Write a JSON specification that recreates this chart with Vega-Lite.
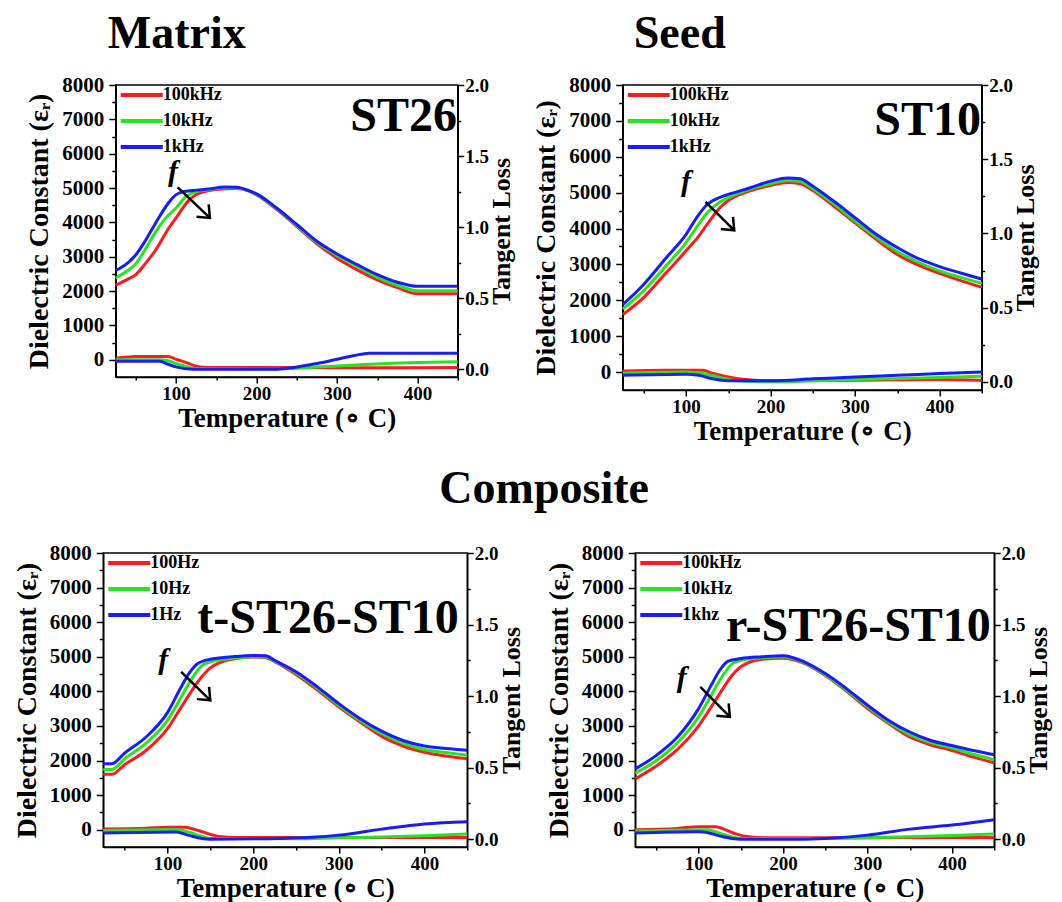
{
  "$schema": "https://vega.github.io/schema/vega-lite/v6.json",
  "padding": {"left": 12, "top": 10, "right": 3, "bottom": 0},
  "background": "white",
  "datasets": {
    "eps": [
      {"p":"A","f":"100kHz","T":25,"eps":2170},{"p":"A","f":"100kHz","T":40,"eps":2350},{"p":"A","f":"100kHz","T":50,"eps":2480},{"p":"A","f":"100kHz","T":60,"eps":2750},{"p":"A","f":"100kHz","T":75,"eps":3210},{"p":"A","f":"100kHz","T":90,"eps":3800},{"p":"A","f":"100kHz","T":100,"eps":4130},{"p":"A","f":"100kHz","T":115,"eps":4620},{"p":"A","f":"100kHz","T":125,"eps":4810},{"p":"A","f":"100kHz","T":140,"eps":4920},{"p":"A","f":"100kHz","T":150,"eps":4960},{"p":"A","f":"100kHz","T":175,"eps":4990},{"p":"A","f":"100kHz","T":190,"eps":4920},{"p":"A","f":"100kHz","T":200,"eps":4800},{"p":"A","f":"100kHz","T":225,"eps":4380},{"p":"A","f":"100kHz","T":250,"eps":3880},{"p":"A","f":"100kHz","T":275,"eps":3380},{"p":"A","f":"100kHz","T":300,"eps":2960},{"p":"A","f":"100kHz","T":325,"eps":2620},{"p":"A","f":"100kHz","T":350,"eps":2330},{"p":"A","f":"100kHz","T":375,"eps":2100},{"p":"A","f":"100kHz","T":400,"eps":1920},{"p":"A","f":"100kHz","T":425,"eps":1920},{"p":"A","f":"100kHz","T":450,"eps":1920},
      {"p":"A","f":"10kHz","T":25,"eps":2380},{"p":"A","f":"10kHz","T":40,"eps":2600},{"p":"A","f":"10kHz","T":50,"eps":2800},{"p":"A","f":"10kHz","T":60,"eps":3150},{"p":"A","f":"10kHz","T":75,"eps":3740},{"p":"A","f":"10kHz","T":90,"eps":4200},{"p":"A","f":"10kHz","T":100,"eps":4420},{"p":"A","f":"10kHz","T":112,"eps":4750},{"p":"A","f":"10kHz","T":125,"eps":4900},{"p":"A","f":"10kHz","T":140,"eps":4950},{"p":"A","f":"10kHz","T":160,"eps":5010},{"p":"A","f":"10kHz","T":175,"eps":5000},{"p":"A","f":"10kHz","T":190,"eps":4920},{"p":"A","f":"10kHz","T":200,"eps":4810},{"p":"A","f":"10kHz","T":225,"eps":4400},{"p":"A","f":"10kHz","T":250,"eps":3910},{"p":"A","f":"10kHz","T":275,"eps":3420},{"p":"A","f":"10kHz","T":300,"eps":3040},{"p":"A","f":"10kHz","T":325,"eps":2720},{"p":"A","f":"10kHz","T":350,"eps":2400},{"p":"A","f":"10kHz","T":375,"eps":2170},{"p":"A","f":"10kHz","T":400,"eps":2010},{"p":"A","f":"10kHz","T":425,"eps":2010},{"p":"A","f":"10kHz","T":450,"eps":2010},
      {"p":"A","f":"1kHz","T":25,"eps":2600},{"p":"A","f":"1kHz","T":40,"eps":2820},{"p":"A","f":"1kHz","T":50,"eps":3060},{"p":"A","f":"1kHz","T":60,"eps":3400},{"p":"A","f":"1kHz","T":75,"eps":4000},{"p":"A","f":"1kHz","T":90,"eps":4550},{"p":"A","f":"1kHz","T":100,"eps":4810},{"p":"A","f":"1kHz","T":110,"eps":4900},{"p":"A","f":"1kHz","T":125,"eps":4940},{"p":"A","f":"1kHz","T":140,"eps":4970},{"p":"A","f":"1kHz","T":160,"eps":5030},{"p":"A","f":"1kHz","T":175,"eps":5020},{"p":"A","f":"1kHz","T":190,"eps":4930},{"p":"A","f":"1kHz","T":200,"eps":4830},{"p":"A","f":"1kHz","T":225,"eps":4420},{"p":"A","f":"1kHz","T":250,"eps":3940},{"p":"A","f":"1kHz","T":275,"eps":3450},{"p":"A","f":"1kHz","T":300,"eps":3080},{"p":"A","f":"1kHz","T":325,"eps":2770},{"p":"A","f":"1kHz","T":350,"eps":2480},{"p":"A","f":"1kHz","T":375,"eps":2260},{"p":"A","f":"1kHz","T":400,"eps":2140},{"p":"A","f":"1kHz","T":425,"eps":2140},{"p":"A","f":"1kHz","T":450,"eps":2140},

      {"p":"B","f":"100kHz","T":25,"eps":1600},{"p":"B","f":"100kHz","T":50,"eps":2080},{"p":"B","f":"100kHz","T":75,"eps":2730},{"p":"B","f":"100kHz","T":100,"eps":3380},{"p":"B","f":"100kHz","T":115,"eps":3790},{"p":"B","f":"100kHz","T":125,"eps":4120},{"p":"B","f":"100kHz","T":140,"eps":4580},{"p":"B","f":"100kHz","T":150,"eps":4780},{"p":"B","f":"100kHz","T":175,"eps":5040},{"p":"B","f":"100kHz","T":200,"eps":5200},{"p":"B","f":"100kHz","T":220,"eps":5280},{"p":"B","f":"100kHz","T":235,"eps":5250},{"p":"B","f":"100kHz","T":250,"eps":5060},{"p":"B","f":"100kHz","T":275,"eps":4620},{"p":"B","f":"100kHz","T":300,"eps":4160},{"p":"B","f":"100kHz","T":325,"eps":3700},{"p":"B","f":"100kHz","T":350,"eps":3280},{"p":"B","f":"100kHz","T":375,"eps":2980},{"p":"B","f":"100kHz","T":400,"eps":2750},{"p":"B","f":"100kHz","T":425,"eps":2550},{"p":"B","f":"100kHz","T":450,"eps":2360},
      {"p":"B","f":"10kHz","T":25,"eps":1760},{"p":"B","f":"10kHz","T":50,"eps":2270},{"p":"B","f":"10kHz","T":75,"eps":2930},{"p":"B","f":"10kHz","T":100,"eps":3610},{"p":"B","f":"10kHz","T":115,"eps":4120},{"p":"B","f":"10kHz","T":125,"eps":4440},{"p":"B","f":"10kHz","T":140,"eps":4740},{"p":"B","f":"10kHz","T":150,"eps":4860},{"p":"B","f":"10kHz","T":175,"eps":5090},{"p":"B","f":"10kHz","T":200,"eps":5250},{"p":"B","f":"10kHz","T":220,"eps":5340},{"p":"B","f":"10kHz","T":235,"eps":5310},{"p":"B","f":"10kHz","T":250,"eps":5110},{"p":"B","f":"10kHz","T":275,"eps":4680},{"p":"B","f":"10kHz","T":300,"eps":4210},{"p":"B","f":"10kHz","T":325,"eps":3760},{"p":"B","f":"10kHz","T":350,"eps":3360},{"p":"B","f":"10kHz","T":375,"eps":3060},{"p":"B","f":"10kHz","T":400,"eps":2820},{"p":"B","f":"10kHz","T":425,"eps":2640},{"p":"B","f":"10kHz","T":450,"eps":2470},
      {"p":"B","f":"1kHz","T":25,"eps":1880},{"p":"B","f":"1kHz","T":50,"eps":2450},{"p":"B","f":"1kHz","T":75,"eps":3145},{"p":"B","f":"1kHz","T":100,"eps":3840},{"p":"B","f":"1kHz","T":115,"eps":4390},{"p":"B","f":"1kHz","T":125,"eps":4670},{"p":"B","f":"1kHz","T":140,"eps":4870},{"p":"B","f":"1kHz","T":150,"eps":4950},{"p":"B","f":"1kHz","T":175,"eps":5130},{"p":"B","f":"1kHz","T":200,"eps":5320},{"p":"B","f":"1kHz","T":220,"eps":5410},{"p":"B","f":"1kHz","T":235,"eps":5390},{"p":"B","f":"1kHz","T":250,"eps":5180},{"p":"B","f":"1kHz","T":275,"eps":4760},{"p":"B","f":"1kHz","T":300,"eps":4300},{"p":"B","f":"1kHz","T":325,"eps":3840},{"p":"B","f":"1kHz","T":350,"eps":3470},{"p":"B","f":"1kHz","T":375,"eps":3160},{"p":"B","f":"1kHz","T":400,"eps":2940},{"p":"B","f":"1kHz","T":425,"eps":2760},{"p":"B","f":"1kHz","T":450,"eps":2590},

      {"p":"C","f":"100Hz","T":25,"eps":1600},{"p":"C","f":"100Hz","T":35,"eps":1600},{"p":"C","f":"100Hz","T":50,"eps":1880},{"p":"C","f":"100Hz","T":75,"eps":2290},{"p":"C","f":"100Hz","T":100,"eps":2920},{"p":"C","f":"100Hz","T":115,"eps":3500},{"p":"C","f":"100Hz","T":125,"eps":3890},{"p":"C","f":"100Hz","T":140,"eps":4420},{"p":"C","f":"100Hz","T":150,"eps":4680},{"p":"C","f":"100Hz","T":175,"eps":4930},{"p":"C","f":"100Hz","T":200,"eps":4990},{"p":"C","f":"100Hz","T":215,"eps":4970},{"p":"C","f":"100Hz","T":225,"eps":4860},{"p":"C","f":"100Hz","T":250,"eps":4490},{"p":"C","f":"100Hz","T":275,"eps":4040},{"p":"C","f":"100Hz","T":300,"eps":3550},{"p":"C","f":"100Hz","T":325,"eps":3110},{"p":"C","f":"100Hz","T":350,"eps":2700},{"p":"C","f":"100Hz","T":375,"eps":2420},{"p":"C","f":"100Hz","T":400,"eps":2240},{"p":"C","f":"100Hz","T":425,"eps":2130},{"p":"C","f":"100Hz","T":450,"eps":2050},
      {"p":"C","f":"10Hz","T":25,"eps":1740},{"p":"C","f":"10Hz","T":35,"eps":1740},{"p":"C","f":"10Hz","T":50,"eps":2050},{"p":"C","f":"10Hz","T":75,"eps":2500},{"p":"C","f":"10Hz","T":100,"eps":3160},{"p":"C","f":"10Hz","T":115,"eps":3790},{"p":"C","f":"10Hz","T":125,"eps":4230},{"p":"C","f":"10Hz","T":140,"eps":4740},{"p":"C","f":"10Hz","T":150,"eps":4855},{"p":"C","f":"10Hz","T":175,"eps":4950},{"p":"C","f":"10Hz","T":200,"eps":5000},{"p":"C","f":"10Hz","T":215,"eps":4990},{"p":"C","f":"10Hz","T":225,"eps":4880},{"p":"C","f":"10Hz","T":250,"eps":4530},{"p":"C","f":"10Hz","T":275,"eps":4090},{"p":"C","f":"10Hz","T":300,"eps":3600},{"p":"C","f":"10Hz","T":325,"eps":3160},{"p":"C","f":"10Hz","T":350,"eps":2780},{"p":"C","f":"10Hz","T":375,"eps":2500},{"p":"C","f":"10Hz","T":400,"eps":2320},{"p":"C","f":"10Hz","T":425,"eps":2230},{"p":"C","f":"10Hz","T":450,"eps":2150},
      {"p":"C","f":"1Hz","T":25,"eps":1905},{"p":"C","f":"1Hz","T":35,"eps":1905},{"p":"C","f":"1Hz","T":50,"eps":2215},{"p":"C","f":"1Hz","T":75,"eps":2680},{"p":"C","f":"1Hz","T":100,"eps":3385},{"p":"C","f":"1Hz","T":115,"eps":4080},{"p":"C","f":"1Hz","T":125,"eps":4515},{"p":"C","f":"1Hz","T":135,"eps":4800},{"p":"C","f":"1Hz","T":150,"eps":4930},{"p":"C","f":"1Hz","T":175,"eps":5000},{"p":"C","f":"1Hz","T":200,"eps":5040},{"p":"C","f":"1Hz","T":215,"eps":5030},{"p":"C","f":"1Hz","T":225,"eps":4900},{"p":"C","f":"1Hz","T":250,"eps":4565},{"p":"C","f":"1Hz","T":275,"eps":4130},{"p":"C","f":"1Hz","T":300,"eps":3645},{"p":"C","f":"1Hz","T":325,"eps":3210},{"p":"C","f":"1Hz","T":350,"eps":2850},{"p":"C","f":"1Hz","T":375,"eps":2580},{"p":"C","f":"1Hz","T":400,"eps":2420},{"p":"C","f":"1Hz","T":425,"eps":2350},{"p":"C","f":"1Hz","T":450,"eps":2300},

      {"p":"D","f":"100kHz","T":25,"eps":1470},{"p":"D","f":"100kHz","T":50,"eps":1840},{"p":"D","f":"100kHz","T":75,"eps":2320},{"p":"D","f":"100kHz","T":100,"eps":3000},{"p":"D","f":"100kHz","T":115,"eps":3550},{"p":"D","f":"100kHz","T":125,"eps":3935},{"p":"D","f":"100kHz","T":140,"eps":4470},{"p":"D","f":"100kHz","T":150,"eps":4710},{"p":"D","f":"100kHz","T":175,"eps":4930},{"p":"D","f":"100kHz","T":200,"eps":4960},{"p":"D","f":"100kHz","T":225,"eps":4810},{"p":"D","f":"100kHz","T":250,"eps":4460},{"p":"D","f":"100kHz","T":275,"eps":4010},{"p":"D","f":"100kHz","T":300,"eps":3500},{"p":"D","f":"100kHz","T":325,"eps":3070},{"p":"D","f":"100kHz","T":350,"eps":2680},{"p":"D","f":"100kHz","T":375,"eps":2450},{"p":"D","f":"100kHz","T":400,"eps":2290},{"p":"D","f":"100kHz","T":425,"eps":2100},{"p":"D","f":"100kHz","T":450,"eps":1935},
      {"p":"D","f":"10kHz","T":25,"eps":1635},{"p":"D","f":"10kHz","T":50,"eps":2000},{"p":"D","f":"10kHz","T":75,"eps":2515},{"p":"D","f":"10kHz","T":100,"eps":3260},{"p":"D","f":"10kHz","T":115,"eps":3890},{"p":"D","f":"10kHz","T":125,"eps":4320},{"p":"D","f":"10kHz","T":140,"eps":4800},{"p":"D","f":"10kHz","T":150,"eps":4900},{"p":"D","f":"10kHz","T":175,"eps":4970},{"p":"D","f":"10kHz","T":200,"eps":4990},{"p":"D","f":"10kHz","T":225,"eps":4830},{"p":"D","f":"10kHz","T":250,"eps":4480},{"p":"D","f":"10kHz","T":275,"eps":4040},{"p":"D","f":"10kHz","T":300,"eps":3550},{"p":"D","f":"10kHz","T":325,"eps":3110},{"p":"D","f":"10kHz","T":350,"eps":2750},{"p":"D","f":"10kHz","T":375,"eps":2520},{"p":"D","f":"10kHz","T":400,"eps":2360},{"p":"D","f":"10kHz","T":425,"eps":2180},{"p":"D","f":"10kHz","T":450,"eps":2020},
      {"p":"D","f":"1khz","T":25,"eps":1760},{"p":"D","f":"1khz","T":50,"eps":2150},{"p":"D","f":"1khz","T":75,"eps":2680},{"p":"D","f":"1khz","T":100,"eps":3500},{"p":"D","f":"1khz","T":115,"eps":4180},{"p":"D","f":"1khz","T":125,"eps":4610},{"p":"D","f":"1khz","T":135,"eps":4875},{"p":"D","f":"1khz","T":150,"eps":4950},{"p":"D","f":"1khz","T":175,"eps":5000},{"p":"D","f":"1khz","T":200,"eps":5030},{"p":"D","f":"1khz","T":225,"eps":4855},{"p":"D","f":"1khz","T":250,"eps":4515},{"p":"D","f":"1khz","T":275,"eps":4080},{"p":"D","f":"1khz","T":300,"eps":3600},{"p":"D","f":"1khz","T":325,"eps":3160},{"p":"D","f":"1khz","T":350,"eps":2825},{"p":"D","f":"1khz","T":375,"eps":2580},{"p":"D","f":"1khz","T":400,"eps":2435},{"p":"D","f":"1khz","T":425,"eps":2290},{"p":"D","f":"1khz","T":450,"eps":2165}
    ],
    "tan": [
      {"p":"A","f":"100kHz","T":25,"tan":0.077},{"p":"A","f":"100kHz","T":50,"tan":0.089},{"p":"A","f":"100kHz","T":90,"tan":0.089},{"p":"A","f":"100kHz","T":100,"tan":0.07},{"p":"A","f":"100kHz","T":110,"tan":0.052},{"p":"A","f":"100kHz","T":120,"tan":0.03},{"p":"A","f":"100kHz","T":130,"tan":0.016},{"p":"A","f":"100kHz","T":150,"tan":0.012},{"p":"A","f":"100kHz","T":300,"tan":0.01},{"p":"A","f":"100kHz","T":450,"tan":0.012},
      {"p":"A","f":"10kHz","T":25,"tan":0.066},{"p":"A","f":"10kHz","T":80,"tan":0.066},{"p":"A","f":"10kHz","T":90,"tan":0.059},{"p":"A","f":"10kHz","T":100,"tan":0.04},{"p":"A","f":"10kHz","T":110,"tan":0.023},{"p":"A","f":"10kHz","T":125,"tan":0.005},{"p":"A","f":"10kHz","T":220,"tan":0.0},{"p":"A","f":"10kHz","T":250,"tan":0.007},{"p":"A","f":"10kHz","T":300,"tan":0.023},{"p":"A","f":"10kHz","T":340,"tan":0.035},{"p":"A","f":"10kHz","T":400,"tan":0.047},{"p":"A","f":"10kHz","T":450,"tan":0.052},
      {"p":"A","f":"1kHz","T":25,"tan":0.055},{"p":"A","f":"1kHz","T":80,"tan":0.055},{"p":"A","f":"1kHz","T":90,"tan":0.035},{"p":"A","f":"1kHz","T":100,"tan":0.016},{"p":"A","f":"1kHz","T":120,"tan":0.0},{"p":"A","f":"1kHz","T":220,"tan":0.0},{"p":"A","f":"1kHz","T":250,"tan":0.016},{"p":"A","f":"1kHz","T":275,"tan":0.04},{"p":"A","f":"1kHz","T":300,"tan":0.07},{"p":"A","f":"1kHz","T":320,"tan":0.094},{"p":"A","f":"1kHz","T":340,"tan":0.113},{"p":"A","f":"1kHz","T":450,"tan":0.113},

      {"p":"B","f":"100kHz","T":25,"tan":0.073},{"p":"B","f":"100kHz","T":75,"tan":0.078},{"p":"B","f":"100kHz","T":120,"tan":0.078},{"p":"B","f":"100kHz","T":130,"tan":0.06},{"p":"B","f":"100kHz","T":150,"tan":0.033},{"p":"B","f":"100kHz","T":170,"tan":0.016},{"p":"B","f":"100kHz","T":200,"tan":0.007},{"p":"B","f":"100kHz","T":300,"tan":0.011},{"p":"B","f":"100kHz","T":400,"tan":0.016},{"p":"B","f":"100kHz","T":450,"tan":0.011},
      {"p":"B","f":"10kHz","T":25,"tan":0.06},{"p":"B","f":"10kHz","T":100,"tan":0.067},{"p":"B","f":"10kHz","T":120,"tan":0.056},{"p":"B","f":"10kHz","T":140,"tan":0.029},{"p":"B","f":"10kHz","T":160,"tan":0.007},{"p":"B","f":"10kHz","T":200,"tan":0.0},{"p":"B","f":"10kHz","T":300,"tan":0.016},{"p":"B","f":"10kHz","T":400,"tan":0.029},{"p":"B","f":"10kHz","T":450,"tan":0.038},
      {"p":"B","f":"1kHz","T":25,"tan":0.044},{"p":"B","f":"1kHz","T":100,"tan":0.051},{"p":"B","f":"1kHz","T":115,"tan":0.044},{"p":"B","f":"1kHz","T":130,"tan":0.022},{"p":"B","f":"1kHz","T":150,"tan":0.007},{"p":"B","f":"1kHz","T":200,"tan":0.007},{"p":"B","f":"1kHz","T":250,"tan":0.02},{"p":"B","f":"1kHz","T":300,"tan":0.033},{"p":"B","f":"1kHz","T":350,"tan":0.044},{"p":"B","f":"1kHz","T":400,"tan":0.056},{"p":"B","f":"1kHz","T":450,"tan":0.067},

      {"p":"C","f":"100Hz","T":25,"tan":0.071},{"p":"C","f":"100Hz","T":75,"tan":0.076},{"p":"C","f":"100Hz","T":100,"tan":0.083},{"p":"C","f":"100Hz","T":120,"tan":0.083},{"p":"C","f":"100Hz","T":130,"tan":0.071},{"p":"C","f":"100Hz","T":145,"tan":0.043},{"p":"C","f":"100Hz","T":160,"tan":0.019},{"p":"C","f":"100Hz","T":180,"tan":0.012},{"p":"C","f":"100Hz","T":450,"tan":0.012},
      {"p":"C","f":"10Hz","T":25,"tan":0.06},{"p":"C","f":"10Hz","T":110,"tan":0.067},{"p":"C","f":"10Hz","T":125,"tan":0.048},{"p":"C","f":"10Hz","T":140,"tan":0.02},{"p":"C","f":"10Hz","T":150,"tan":0.005},{"p":"C","f":"10Hz","T":250,"tan":0.003},{"p":"C","f":"10Hz","T":300,"tan":0.01},{"p":"C","f":"10Hz","T":350,"tan":0.015},{"p":"C","f":"10Hz","T":400,"tan":0.024},{"p":"C","f":"10Hz","T":450,"tan":0.036},
      {"p":"C","f":"1Hz","T":25,"tan":0.043},{"p":"C","f":"1Hz","T":110,"tan":0.05},{"p":"C","f":"1Hz","T":125,"tan":0.026},{"p":"C","f":"1Hz","T":140,"tan":0.005},{"p":"C","f":"1Hz","T":150,"tan":0.0},{"p":"C","f":"1Hz","T":232,"tan":0.005},{"p":"C","f":"1Hz","T":300,"tan":0.028},{"p":"C","f":"1Hz","T":350,"tan":0.07},{"p":"C","f":"1Hz","T":400,"tan":0.106},{"p":"C","f":"1Hz","T":450,"tan":0.122},

      {"p":"D","f":"100kHz","T":25,"tan":0.066},{"p":"D","f":"100kHz","T":75,"tan":0.075},{"p":"D","f":"100kHz","T":100,"tan":0.087},{"p":"D","f":"100kHz","T":120,"tan":0.087},{"p":"D","f":"100kHz","T":130,"tan":0.07},{"p":"D","f":"100kHz","T":145,"tan":0.035},{"p":"D","f":"100kHz","T":160,"tan":0.016},{"p":"D","f":"100kHz","T":180,"tan":0.009},{"p":"D","f":"100kHz","T":450,"tan":0.012},
      {"p":"D","f":"10kHz","T":25,"tan":0.056},{"p":"D","f":"10kHz","T":110,"tan":0.066},{"p":"D","f":"10kHz","T":125,"tan":0.042},{"p":"D","f":"10kHz","T":140,"tan":0.014},{"p":"D","f":"10kHz","T":150,"tan":0.005},{"p":"D","f":"10kHz","T":250,"tan":0.004},{"p":"D","f":"10kHz","T":300,"tan":0.01},{"p":"D","f":"10kHz","T":350,"tan":0.017},{"p":"D","f":"10kHz","T":400,"tan":0.026},{"p":"D","f":"10kHz","T":450,"tan":0.035},
      {"p":"D","f":"1khz","T":25,"tan":0.042},{"p":"D","f":"1khz","T":100,"tan":0.052},{"p":"D","f":"1khz","T":110,"tan":0.047},{"p":"D","f":"1khz","T":125,"tan":0.023},{"p":"D","f":"1khz","T":140,"tan":0.005},{"p":"D","f":"1khz","T":150,"tan":0.0},{"p":"D","f":"1khz","T":220,"tan":0.0},{"p":"D","f":"1khz","T":250,"tan":0.005},{"p":"D","f":"1khz","T":300,"tan":0.028},{"p":"D","f":"1khz","T":350,"tan":0.07},{"p":"D","f":"1khz","T":400,"tan":0.098},{"p":"D","f":"1khz","T":450,"tan":0.136}
    ],
    "ann": [
      {"p":"A","k":"label","T":449,"eps":6650,"txt":"ST26"},
      {"p":"A","k":"f","T":96,"eps":5200,"txt":"f"},
      {"p":"A","k":"arrow","T":102,"eps":5020,"T2":142,"eps2":4130},
      {"p":"A","k":"head","T":142,"eps":4130},
      {"p":"B","k":"label","T":449,"eps":6600,"txt":"ST10"},
      {"p":"B","k":"f","T":100,"eps":5050,"txt":"f"},
      {"p":"B","k":"arrow","T":123,"eps":4745,"T2":157,"eps2":3950},
      {"p":"B","k":"head","T":157,"eps":3950},
      {"p":"C","k":"label","T":440,"eps":5700,"txt":"t-ST26-ST10"},
      {"p":"C","k":"f","T":95,"eps":4660,"txt":"f"},
      {"p":"C","k":"arrow","T":116,"eps":4565,"T2":150,"eps2":3740},
      {"p":"C","k":"head","T":150,"eps":3740},
      {"p":"D","k":"label","T":446,"eps":5450,"txt":"r-ST26-ST10"},
      {"p":"D","k":"f","T":80,"eps":4130,"txt":"f"},
      {"p":"D","k":"arrow","T":102,"eps":4130,"T2":137,"eps2":3260},
      {"p":"D","k":"head","T":137,"eps":3260}
    ]
  },
  "vconcat": [
    {
      "hconcat": [
        {
          "width": 342, "height": 292,
          "title": {"text": "Matrix", "offset": 16, "dx": -8, "frame": "group"},
          "encoding": {"x": {"field": "T", "type": "quantitative", "title": "Temperature (∘ C)", "scale": {"domain": [25, 450], "nice": false, "zero": false}, "axis": {"values": [50,100,150,200,250,300,350,400,450], "labelExpr": "datum.value % 100 === 0 ? datum.label : ''", "tickSize": {"condition": {"test": "datum.value % 100 === 0", "value": 6}, "value": 3}, "labelFlush": false, "labelOverlap": false}}},
          "layer": [
            {"encoding": {"y": {"field": "eps", "type": "quantitative", "title": "Dielectric Constant (εᵣ)", "scale": {"domain": [-500, 8000], "nice": false, "zero": false}, "axis": {"values": [0,500,1000,1500,2000,2500,3000,3500,4000,4500,5000,5500,6000,6500,7000,7500,8000], "format": "d", "labelExpr": "datum.value % 1000 === 0 ? datum.label : ''", "tickSize": {"condition": {"test": "datum.value % 1000 === 0", "value": 7}, "value": 4}, "labelOverlap": false, "labelFlush": false}}},
             "layer": [
              {"data": {"name": "eps"}, "transform": [{"filter": "datum.p === 'A'"}], "mark": {"type": "line", "strokeWidth": 3, "interpolate": "monotone"},
               "encoding": {"color": {"field": "f", "type": "nominal", "scale": {"domain": ["100kHz","10kHz","1kHz"], "range": ["#ff1a1a","#22e622","#1a1aff"]}, "legend": {"title": null}}}},
              {"data": {"name": "ann"}, "transform": [{"filter": "datum.p === 'A' && datum.k === 'label'"}], "mark": {"type": "text", "font": "Liberation Serif", "fontWeight": "bold", "fontSize": 48, "align": "right", "baseline": "alphabetic", "color": "black"},
               "encoding": {"text": {"field": "txt"}}},
              {"data": {"name": "ann"}, "transform": [{"filter": "datum.p === 'A' && datum.k === 'f'"}], "mark": {"type": "text", "font": "Liberation Serif", "fontStyle": "italic", "fontWeight": "bold", "fontSize": 30, "align": "center", "baseline": "alphabetic", "color": "black"},
               "encoding": {"text": {"field": "txt"}}},
              {"data": {"name": "ann"}, "transform": [{"filter": "datum.p === 'A' && datum.k === 'arrow'"}], "mark": {"type": "rule", "strokeWidth": 2.5, "color": "black"},
               "encoding": {"x2": {"field": "T2"}, "y2": {"field": "eps2"}}},
              {"data": {"name": "ann"}, "transform": [{"filter": "datum.p === 'A' && datum.k === 'head'"}], "mark": {"type": "point", "shape": "M-1,1.2L0,0L1,1.2", "filled": false, "color": "black", "strokeWidth": 2.5, "size": 300, "angle": 135, "opacity": 1}}
            ]},
            {"data": {"name": "tan"}, "transform": [{"filter": "datum.p === 'A'"}], "mark": {"type": "line", "strokeWidth": 3, "interpolate": "monotone"},
             "encoding": {"y": {"field": "tan", "type": "quantitative", "title": "Tangent Loss", "scale": {"domain": [-0.055, 2], "nice": false, "zero": false}, "axis": {"orient": "right", "values": [0,0.25,0.5,0.75,1,1.25,1.5,1.75,2], "labelExpr": "datum.value % 0.5 === 0 ? format(datum.value, '.1f') : ''", "tickSize": {"condition": {"test": "datum.value % 0.5 === 0", "value": 6}, "value": 3}, "labelOverlap": false, "labelFlush": false, "titleAngle": -90, "titleBaseline": "top"}},
              "color": {"field": "f", "type": "nominal", "scale": {"domain": ["100kHz","10kHz","1kHz"], "range": ["#ff1a1a","#22e622","#1a1aff"]}, "legend": {"title": null}}}}
          ],
          "resolve": {"scale": {"y": "independent"}}
        },
        {
          "width": 359, "height": 305,
          "title": {"text": "Seed", "offset": 16, "dx": 11, "frame": "group"},
          "encoding": {"x": {"field": "T", "type": "quantitative", "title": "Temperature (∘ C)", "scale": {"domain": [25, 450], "nice": false, "zero": false}, "axis": {"values": [50,100,150,200,250,300,350,400,450], "labelExpr": "datum.value % 100 === 0 ? datum.label : ''", "tickSize": {"condition": {"test": "datum.value % 100 === 0", "value": 6}, "value": 3}, "labelFlush": false, "labelOverlap": false}}},
          "layer": [
            {"encoding": {"y": {"field": "eps", "type": "quantitative", "title": "Dielectric Constant (εᵣ)", "scale": {"domain": [-500, 8000], "nice": false, "zero": false}, "axis": {"values": [0,500,1000,1500,2000,2500,3000,3500,4000,4500,5000,5500,6000,6500,7000,7500,8000], "format": "d", "labelExpr": "datum.value % 1000 === 0 ? datum.label : ''", "tickSize": {"condition": {"test": "datum.value % 1000 === 0", "value": 7}, "value": 4}, "labelOverlap": false, "labelFlush": false}}},
             "layer": [
              {"data": {"name": "eps"}, "transform": [{"filter": "datum.p === 'B'"}], "mark": {"type": "line", "strokeWidth": 3, "interpolate": "monotone"},
               "encoding": {"color": {"field": "f", "type": "nominal", "scale": {"domain": ["100kHz","10kHz","1kHz"], "range": ["#ff1a1a","#22e622","#1a1aff"]}, "legend": {"title": null}}}},
              {"data": {"name": "ann"}, "transform": [{"filter": "datum.p === 'B' && datum.k === 'label'"}], "mark": {"type": "text", "font": "Liberation Serif", "fontWeight": "bold", "fontSize": 48, "align": "right", "baseline": "alphabetic", "color": "black"},
               "encoding": {"text": {"field": "txt"}}},
              {"data": {"name": "ann"}, "transform": [{"filter": "datum.p === 'B' && datum.k === 'f'"}], "mark": {"type": "text", "font": "Liberation Serif", "fontStyle": "italic", "fontWeight": "bold", "fontSize": 30, "align": "center", "baseline": "alphabetic", "color": "black"},
               "encoding": {"text": {"field": "txt"}}},
              {"data": {"name": "ann"}, "transform": [{"filter": "datum.p === 'B' && datum.k === 'arrow'"}], "mark": {"type": "rule", "strokeWidth": 2.5, "color": "black"},
               "encoding": {"x2": {"field": "T2"}, "y2": {"field": "eps2"}}},
              {"data": {"name": "ann"}, "transform": [{"filter": "datum.p === 'B' && datum.k === 'head'"}], "mark": {"type": "point", "shape": "M-1,1.2L0,0L1,1.2", "filled": false, "color": "black", "strokeWidth": 2.5, "size": 300, "angle": 135, "opacity": 1}}
            ]},
            {"data": {"name": "tan"}, "transform": [{"filter": "datum.p === 'B'"}], "mark": {"type": "line", "strokeWidth": 3, "interpolate": "monotone"},
             "encoding": {"y": {"field": "tan", "type": "quantitative", "title": "Tangent Loss", "scale": {"domain": [-0.055, 2], "nice": false, "zero": false}, "axis": {"orient": "right", "values": [0,0.25,0.5,0.75,1,1.25,1.5,1.75,2], "labelExpr": "datum.value % 0.5 === 0 ? format(datum.value, '.1f') : ''", "tickSize": {"condition": {"test": "datum.value % 0.5 === 0", "value": 6}, "value": 3}, "labelOverlap": false, "labelFlush": false, "titleAngle": -90, "titleBaseline": "top"}},
              "color": {"field": "f", "type": "nominal", "scale": {"domain": ["100kHz","10kHz","1kHz"], "range": ["#ff1a1a","#22e622","#1a1aff"]}, "legend": {"title": null}}}}
          ],
          "resolve": {"scale": {"y": "independent"}}
        }
      ],
      "spacing": 16,
      "resolve": {"scale": {"color": "independent"}}
    },
    {
      "title": {"text": "Composite", "anchor": "middle", "offset": 28, "dx": 12},
      "hconcat": [
        {
          "width": 364, "height": 294,
          "encoding": {"x": {"field": "T", "type": "quantitative", "title": "Temperature (∘ C)", "scale": {"domain": [25, 450], "nice": false, "zero": false}, "axis": {"values": [50,100,150,200,250,300,350,400,450], "labelExpr": "datum.value % 100 === 0 ? datum.label : ''", "tickSize": {"condition": {"test": "datum.value % 100 === 0", "value": 6}, "value": 3}, "labelFlush": false, "labelOverlap": false}}},
          "layer": [
            {"encoding": {"y": {"field": "eps", "type": "quantitative", "title": "Dielectric Constant (εᵣ)", "scale": {"domain": [-500, 8000], "nice": false, "zero": false}, "axis": {"values": [0,500,1000,1500,2000,2500,3000,3500,4000,4500,5000,5500,6000,6500,7000,7500,8000], "format": "d", "labelExpr": "datum.value % 1000 === 0 ? datum.label : ''", "tickSize": {"condition": {"test": "datum.value % 1000 === 0", "value": 7}, "value": 4}, "labelOverlap": false, "labelFlush": false}}},
             "layer": [
              {"data": {"name": "eps"}, "transform": [{"filter": "datum.p === 'C'"}], "mark": {"type": "line", "strokeWidth": 3, "interpolate": "monotone"},
               "encoding": {"color": {"field": "f", "type": "nominal", "scale": {"domain": ["100Hz","10Hz","1Hz"], "range": ["#ff1a1a","#22e622","#1a1aff"]}, "legend": {"title": null}}}},
              {"data": {"name": "ann"}, "transform": [{"filter": "datum.p === 'C' && datum.k === 'label'"}], "mark": {"type": "text", "font": "Liberation Serif", "fontWeight": "bold", "fontSize": 48, "align": "right", "baseline": "alphabetic", "color": "black"},
               "encoding": {"text": {"field": "txt"}}},
              {"data": {"name": "ann"}, "transform": [{"filter": "datum.p === 'C' && datum.k === 'f'"}], "mark": {"type": "text", "font": "Liberation Serif", "fontStyle": "italic", "fontWeight": "bold", "fontSize": 30, "align": "center", "baseline": "alphabetic", "color": "black"},
               "encoding": {"text": {"field": "txt"}}},
              {"data": {"name": "ann"}, "transform": [{"filter": "datum.p === 'C' && datum.k === 'arrow'"}], "mark": {"type": "rule", "strokeWidth": 2.5, "color": "black"},
               "encoding": {"x2": {"field": "T2"}, "y2": {"field": "eps2"}}},
              {"data": {"name": "ann"}, "transform": [{"filter": "datum.p === 'C' && datum.k === 'head'"}], "mark": {"type": "point", "shape": "M-1,1.2L0,0L1,1.2", "filled": false, "color": "black", "strokeWidth": 2.5, "size": 300, "angle": 135, "opacity": 1}}
            ]},
            {"data": {"name": "tan"}, "transform": [{"filter": "datum.p === 'C'"}], "mark": {"type": "line", "strokeWidth": 3, "interpolate": "monotone"},
             "encoding": {"y": {"field": "tan", "type": "quantitative", "title": "Tangent Loss", "scale": {"domain": [-0.055, 2], "nice": false, "zero": false}, "axis": {"orient": "right", "values": [0,0.25,0.5,0.75,1,1.25,1.5,1.75,2], "labelExpr": "datum.value % 0.5 === 0 ? format(datum.value, '.1f') : ''", "tickSize": {"condition": {"test": "datum.value % 0.5 === 0", "value": 6}, "value": 3}, "labelOverlap": false, "labelFlush": false, "titleAngle": -90, "titleBaseline": "top"}},
              "color": {"field": "f", "type": "nominal", "scale": {"domain": ["100Hz","10Hz","1Hz"], "range": ["#ff1a1a","#22e622","#1a1aff"]}, "legend": {"title": null}}}}
          ],
          "resolve": {"scale": {"y": "independent"}}
        },
        {
          "width": 359, "height": 294,
          "encoding": {"x": {"field": "T", "type": "quantitative", "title": "Temperature (∘ C)", "scale": {"domain": [25, 450], "nice": false, "zero": false}, "axis": {"values": [50,100,150,200,250,300,350,400,450], "labelExpr": "datum.value % 100 === 0 ? datum.label : ''", "tickSize": {"condition": {"test": "datum.value % 100 === 0", "value": 6}, "value": 3}, "labelFlush": false, "labelOverlap": false}}},
          "layer": [
            {"encoding": {"y": {"field": "eps", "type": "quantitative", "title": "Dielectric Constant (εᵣ)", "scale": {"domain": [-500, 8000], "nice": false, "zero": false}, "axis": {"values": [0,500,1000,1500,2000,2500,3000,3500,4000,4500,5000,5500,6000,6500,7000,7500,8000], "format": "d", "labelExpr": "datum.value % 1000 === 0 ? datum.label : ''", "tickSize": {"condition": {"test": "datum.value % 1000 === 0", "value": 7}, "value": 4}, "labelOverlap": false, "labelFlush": false}}},
             "layer": [
              {"data": {"name": "eps"}, "transform": [{"filter": "datum.p === 'D'"}], "mark": {"type": "line", "strokeWidth": 3, "interpolate": "monotone"},
               "encoding": {"color": {"field": "f", "type": "nominal", "scale": {"domain": ["100kHz","10kHz","1khz"], "range": ["#ff1a1a","#22e622","#1a1aff"]}, "legend": {"title": null}}}},
              {"data": {"name": "ann"}, "transform": [{"filter": "datum.p === 'D' && datum.k === 'label'"}], "mark": {"type": "text", "font": "Liberation Serif", "fontWeight": "bold", "fontSize": 48, "align": "right", "baseline": "alphabetic", "color": "black"},
               "encoding": {"text": {"field": "txt"}}},
              {"data": {"name": "ann"}, "transform": [{"filter": "datum.p === 'D' && datum.k === 'f'"}], "mark": {"type": "text", "font": "Liberation Serif", "fontStyle": "italic", "fontWeight": "bold", "fontSize": 30, "align": "center", "baseline": "alphabetic", "color": "black"},
               "encoding": {"text": {"field": "txt"}}},
              {"data": {"name": "ann"}, "transform": [{"filter": "datum.p === 'D' && datum.k === 'arrow'"}], "mark": {"type": "rule", "strokeWidth": 2.5, "color": "black"},
               "encoding": {"x2": {"field": "T2"}, "y2": {"field": "eps2"}}},
              {"data": {"name": "ann"}, "transform": [{"filter": "datum.p === 'D' && datum.k === 'head'"}], "mark": {"type": "point", "shape": "M-1,1.2L0,0L1,1.2", "filled": false, "color": "black", "strokeWidth": 2.5, "size": 300, "angle": 135, "opacity": 1}}
            ]},
            {"data": {"name": "tan"}, "transform": [{"filter": "datum.p === 'D'"}], "mark": {"type": "line", "strokeWidth": 3, "interpolate": "monotone"},
             "encoding": {"y": {"field": "tan", "type": "quantitative", "title": "Tangent Loss", "scale": {"domain": [-0.055, 2], "nice": false, "zero": false}, "axis": {"orient": "right", "values": [0,0.25,0.5,0.75,1,1.25,1.5,1.75,2], "labelExpr": "datum.value % 0.5 === 0 ? format(datum.value, '.1f') : ''", "tickSize": {"condition": {"test": "datum.value % 0.5 === 0", "value": 6}, "value": 3}, "labelOverlap": false, "labelFlush": false, "titleAngle": -90, "titleBaseline": "top"}},
              "color": {"field": "f", "type": "nominal", "scale": {"domain": ["100kHz","10kHz","1khz"], "range": ["#ff1a1a","#22e622","#1a1aff"]}, "legend": {"title": null}}}}
          ],
          "resolve": {"scale": {"y": "independent"}}
        }
      ],
      "spacing": 19,
      "resolve": {"scale": {"color": "independent"}}
    }
  ],
  "spacing": 21,
  "center": true,
  "resolve": {"scale": {"color": "independent"}},
  "config": {
    "font": "Liberation Serif",
    "view": {"stroke": "black", "strokeWidth": 1.5},
    "axis": {"grid": false, "domainColor": "black", "domainWidth": 1.5, "tickColor": "black", "tickWidth": 1.5, "labelFont": "Liberation Serif", "labelFontWeight": "bold", "labelColor": "black", "titleFont": "Liberation Serif", "titleFontWeight": "bold", "titleColor": "black"},
    "axisX": {"labelFontSize": 19, "labelPadding": 1, "titleFontSize": 27, "titlePadding": 2},
    "axisLeft": {"labelFontSize": 21, "labelPadding": 5, "titleFontSize": 28, "titlePadding": 8},
    "axisRight": {"labelFontSize": 19, "labelPadding": 1, "titleFontSize": 26, "titlePadding": 0},
    "legend": {"orient": "top-left", "offset": 1, "padding": 0, "symbolType": "M-1,0L7.4,0", "symbolSize": 100, "symbolStrokeWidth": 4, "labelFont": "Liberation Serif", "labelFontWeight": "bold", "labelFontSize": 18, "labelColor": "black", "labelOffset": 28, "rowPadding": 8},
    "title": {"font": "Liberation Serif", "fontSize": 46, "fontWeight": "bold", "color": "black", "anchor": "start"}
  }
}
